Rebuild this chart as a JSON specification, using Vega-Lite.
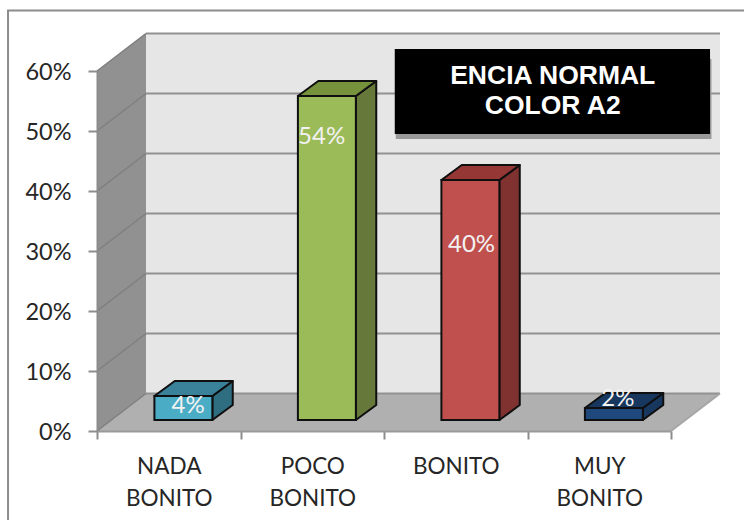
{
"$schema":"https://vega.github.io/schema/vega-lite/v6.json",
"width":574,"height":360,
"autosize":{"type":"none"},
"padding":{"left":97,"top":71,"right":73,"bottom":89},
"background":"white",
"config":{"view":{"stroke":null},"text":{"font":"Lato"}},
"datasets":{
"barras":[{"categoria":"NADA BONITO","i":0,"valor":4},{"categoria":"POCO BONITO","i":1,"valor":54},{"categoria":"BONITO","i":2,"valor":40},{"categoria":"MUY BONITO","i":3,"valor":2}],
"prof":[{"t":0},{"t":1}],
"reticula":[{"nivel":0},{"nivel":10},{"nivel":20},{"nivel":30},{"nivel":40},{"nivel":50},{"nivel":60}],
"titulo":[{"linea":"ENCIA NORMAL","n":0},{"linea":"COLOR A2","n":1}]
},
"resolve":{"axis":{"x":"independent","y":"independent"},"scale":{"color":"independent"}},
"layer":[
{"data":{"values":[{"a":-0.62,"b":5,"c":-20,"d":70.1}]},
 "mark":{"type":"rect","fill":null,"stroke":"#8c8c8c","strokeWidth":2},
 "encoding":{"x":{"field":"a","type":"quantitative","axis":null,"scale":{"domain":[0,4]}},"x2":{"field":"b"},"y":{"field":"c","type":"quantitative","axis":null,"scale":{"domain":[0,60]}},"y2":{"field":"d"}}},
{"data":{"values":[{"a":0.3415,"b":4.3415,"c":6.25,"d":66.33}]},
 "mark":{"type":"rect","fill":"#e6e6e6"},
 "encoding":{"x":{"field":"a","type":"quantitative","axis":null,"scale":{"domain":[0,4]}},"x2":{"field":"b"},"y":{"field":"c","type":"quantitative","axis":null,"scale":{"domain":[0,60]}},"y2":{"field":"d"}}},
{"data":{"name":"prof"},
 "transform":[{"calculate":"datum.t*0.3415","as":"x"},{"calculate":"datum.t*6.25","as":"y0"},{"calculate":"60+datum.t*6.33","as":"y1"}],
 "mark":{"type":"area","fill":"#919191"},
 "encoding":{"x":{"field":"x","type":"quantitative","axis":null,"scale":{"domain":[0,4]}},"y":{"field":"y0","type":"quantitative","scale":{"domain":[0,60]},"axis":{"orient":"left","values":[0,10,20,30,40,50,60],"labelExpr":"datum.value+'%'","title":null,"grid":false,"zindex":2,"domainColor":"#8c8c8c","domainWidth":2,"tickColor":"#8c8c8c","tickWidth":2,"tickSize":9,"labelPadding":17,"labelOffset":1.5,"labelFont":"Lato","labelFontSize":23.5,"labelColor":"#262626"}},"y2":{"field":"y1"}}},
{"data":{"name":"prof"},
 "transform":[{"calculate":"datum.t*0.3415","as":"x"},{"calculate":"4+datum.t*0.3415","as":"xb"},{"calculate":"datum.t*6.25","as":"y"}],
 "mark":{"type":"area","orient":"horizontal","fill":"#b0b0b0"},
 "encoding":{"x":{"field":"x","type":"quantitative","scale":{"domain":[0,4]},"axis":{"orient":"bottom","values":[0,1,2,3,4],"labels":false,"title":null,"grid":false,"zindex":2,"domainColor":"#9a9a9a","domainWidth":2,"tickColor":"#8c8c8c","tickWidth":2,"tickSize":8}},"x2":{"field":"xb"},"y":{"field":"y","type":"quantitative","axis":null,"scale":{"domain":[0,60]}}}},
{"data":{"name":"reticula"},
 "transform":[{"calculate":"datum.nivel+6.25","as":"y"},{"calculate":"0.3415","as":"xa"},{"calculate":"4.3415","as":"xb"}],
 "mark":{"type":"rule","stroke":"#919191","strokeWidth":2},
 "encoding":{"x":{"field":"xa","type":"quantitative","axis":null,"scale":{"domain":[0,4]}},"x2":{"field":"xb"},"y":{"field":"y","type":"quantitative","axis":null,"scale":{"domain":[0,60]}}}},
{"data":{"name":"reticula"},
 "transform":[{"calculate":"[0,1]","as":"t"},{"flatten":["t"]},{"calculate":"datum.t*0.3415","as":"x"},{"calculate":"datum.nivel+datum.t*6.25","as":"y"}],
 "mark":{"type":"line","stroke":"#7f7f7f","strokeWidth":1.5},
 "encoding":{"x":{"field":"x","type":"quantitative","axis":null,"scale":{"domain":[0,4]}},"y":{"field":"y","type":"quantitative","axis":null,"scale":{"domain":[0,60]}},"detail":{"field":"nivel"}}},
{"data":{"name":"prof"},
 "transform":[{"calculate":"4+datum.t*0.3415","as":"x"},{"calculate":"datum.t*6.25","as":"y"}],
 "mark":{"type":"line","stroke":"#a6a6a6","strokeWidth":2},
 "encoding":{"x":{"field":"x","type":"quantitative","axis":null,"scale":{"domain":[0,4]}},"y":{"field":"y","type":"quantitative","axis":null,"scale":{"domain":[0,60]}}}},
{"data":{"name":"barras"},
 "transform":[{"calculate":"[0,1]","as":"t"},{"flatten":["t"]},{"calculate":"datum.i+0.804+datum.t*0.142","as":"x"},{"calculate":"1.83+datum.t*2.5","as":"y0"},{"calculate":"datum.valor+1.83+datum.t*2.5","as":"y1"}],
 "mark":{"type":"area","stroke":"#0f0f0f","strokeWidth":2,"strokeJoin":"round"},
 "encoding":{"x":{"field":"x","type":"quantitative","axis":null,"scale":{"domain":[0,4]}},"y":{"field":"y0","type":"quantitative","axis":null,"scale":{"domain":[0,60]}},"y2":{"field":"y1"},"detail":{"field":"categoria"},"color":{"field":"categoria","type":"nominal","legend":null,"scale":{"domain":["NADA BONITO","POCO BONITO","BONITO","MUY BONITO"],"range":["#2f6d80","#66783a","#7f3230","#17375e"]}}}},
{"data":{"name":"barras"},
 "transform":[{"calculate":"[0,1]","as":"t"},{"flatten":["t"]},{"calculate":"datum.i+0.4+datum.t*0.142","as":"xa"},{"calculate":"datum.i+0.804+datum.t*0.142","as":"xb"},{"calculate":"datum.valor+1.83+datum.t*2.5","as":"y"}],
 "mark":{"type":"area","orient":"horizontal","stroke":"#0f0f0f","strokeWidth":2,"strokeJoin":"round"},
 "encoding":{"x":{"field":"xa","type":"quantitative","axis":null,"scale":{"domain":[0,4]}},"x2":{"field":"xb"},"y":{"field":"y","type":"quantitative","axis":null,"scale":{"domain":[0,60]}},"detail":{"field":"categoria"},"color":{"field":"categoria","type":"nominal","legend":null,"scale":{"domain":["NADA BONITO","POCO BONITO","BONITO","MUY BONITO"],"range":["#3a8299","#76923c","#953735","#17375e"]}}}},
{"data":{"name":"barras"},
 "transform":[{"calculate":"datum.i+0.4","as":"xa"},{"calculate":"datum.i+0.804","as":"xb"},{"calculate":"1.83","as":"y0"},{"calculate":"datum.valor+1.83","as":"y1"}],
 "mark":{"type":"rect","stroke":"#0f0f0f","strokeWidth":2},
 "encoding":{"x":{"field":"xa","type":"quantitative","axis":null,"scale":{"domain":[0,4]}},"x2":{"field":"xb"},"y":{"field":"y0","type":"quantitative","axis":null,"scale":{"domain":[0,60]}},"y2":{"field":"y1"},"color":{"field":"categoria","type":"nominal","legend":null,"scale":{"domain":["NADA BONITO","POCO BONITO","BONITO","MUY BONITO"],"range":["#4bacc6","#9bbb59","#c0504d","#1f497d"]}}}},
{"data":{"name":"barras"},
 "transform":[{"calculate":"datum.i+0.5","as":"xm"},{"calculate":"0","as":"y"}],
 "mark":{"type":"point","opacity":0},
 "encoding":{"x":{"field":"xm","type":"quantitative","scale":{"domain":[0,4]},"axis":{"orient":"bottom","values":[0.5,1.5,2.5,3.5],"labelExpr":"[['NADA','BONITO'],['POCO','BONITO'],['BONITO'],['MUY','BONITO']][floor(datum.value)]","title":null,"grid":false,"domain":false,"ticks":false,"zindex":2,"labelPadding":24,"labelFont":"Lato","labelFontSize":22.5,"labelLineHeight":32,"labelColor":"#262626","labelBaseline":"top","labelAlign":"center"}},"y":{"field":"y","type":"quantitative","axis":null,"scale":{"domain":[0,60]}}}},
{"data":{"name":"barras"},
 "transform":[{"calculate":"[0.635,1.565,2.61,3.63][datum.i]","as":"xt"},{"calculate":"[4.2,49,31,5.33][datum.i]","as":"yt"},{"calculate":"datum.valor+'%'","as":"etiqueta"}],
 "mark":{"type":"text","font":"Lato","fontSize":24,"color":"#f2f2f2","align":"center","baseline":"middle"},
 "encoding":{"x":{"field":"xt","type":"quantitative","axis":null,"scale":{"domain":[0,4]}},"y":{"field":"yt","type":"quantitative","axis":null,"scale":{"domain":[0,60]}},"text":{"field":"etiqueta"}}},
{"data":{"values":[{"a":2.082,"b":4.282,"c":48.67,"d":62}]},
 "mark":{"type":"rect","fill":"#999999"},
 "encoding":{"x":{"field":"a","type":"quantitative","axis":null,"scale":{"domain":[0,4]}},"x2":{"field":"b"},"y":{"field":"c","type":"quantitative","axis":null,"scale":{"domain":[0,60]}},"y2":{"field":"d"}}},
{"data":{"values":[{"a":2.075,"b":4.272,"c":49.5,"d":63.67}]},
 "mark":{"type":"rect","fill":"#000000"},
 "encoding":{"x":{"field":"a","type":"quantitative","axis":null,"scale":{"domain":[0,4]}},"x2":{"field":"b"},"y":{"field":"c","type":"quantitative","axis":null,"scale":{"domain":[0,60]}},"y2":{"field":"d"}}},
{"data":{"name":"titulo"},
 "transform":[{"calculate":"3.176","as":"x"},{"calculate":"59.17-datum.n*5","as":"y"}],
 "mark":{"type":"text","font":"Liberation Sans","fontWeight":"bold","fontSize":26.5,"color":"white","align":"center","baseline":"middle"},
 "encoding":{"x":{"field":"x","type":"quantitative","axis":null,"scale":{"domain":[0,4]}},"y":{"field":"y","type":"quantitative","axis":null,"scale":{"domain":[0,60]}},"text":{"field":"linea"}}}
]
}
